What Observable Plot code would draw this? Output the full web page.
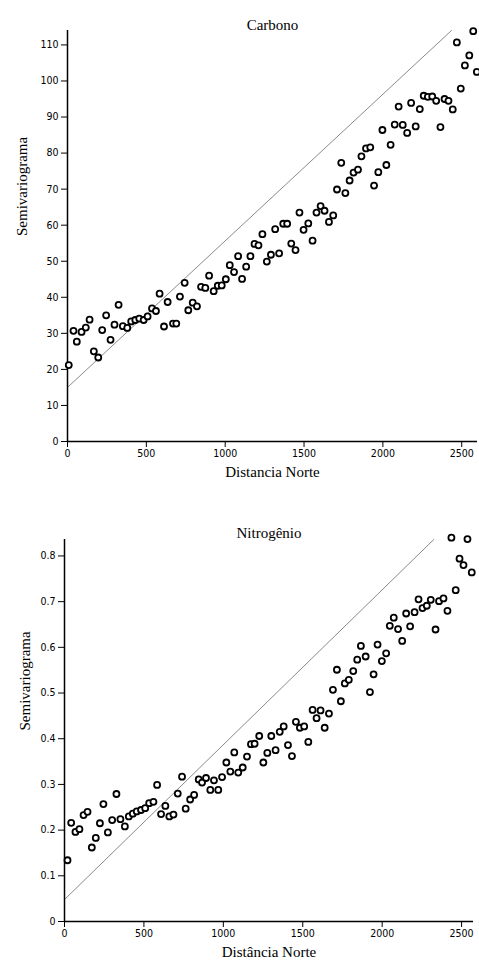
<!DOCTYPE html>
<html><head><meta charset="utf-8">
<script src="https://cdn.jsdelivr.net/npm/d3@7"></script>
<script src="https://cdn.jsdelivr.net/npm/@observablehq/plot@0.6"></script>
<style>
body{margin:0;background:#fff;}
#c svg{display:block;}
</style></head><body><div id="c"></div>
<script>
// Carbono
const distC = [8,38,59,89,116,140,167,195,220,245,273,298,324,351,379,404,430,455,483,508,536,561,584,612,635,669,690,713,743,766,794,821,847,874,898,927,953,978,1004,1029,1056,1082,1107,1133,1160,1186,1211,1236,1264,1290,1317,1342,1368,1393,1419,1446,1471,1497,1527,1554,1579,1605,1630,1658,1685,1709,1736,1762,1789,1814,1842,1864,1893,1920,1944,1971,1997,2022,2049,2075,2100,2126,2154,2179,2208,2234,2259,2285,2313,2338,2365,2391,2416,2443,2469,2494,2520,2548,2573,2596];
const semC = [21.2,30.7,27.7,30.4,31.6,33.8,25.0,23.3,30.9,35.0,28.2,32.4,37.9,32.0,31.5,33.3,33.7,34.1,33.7,34.7,36.9,36.2,41.0,31.9,38.7,32.7,32.7,40.2,44.0,36.4,38.5,37.5,42.9,42.6,46.0,41.7,43.2,43.3,45.0,48.9,47.0,51.4,45.1,48.5,51.4,54.8,54.4,57.5,49.9,51.8,58.9,52.2,60.4,60.4,54.9,53.1,63.5,58.7,60.5,55.7,63.5,65.3,64.0,60.9,62.7,69.9,77.3,68.9,72.4,74.6,75.4,79.1,81.3,81.6,71.0,74.7,86.4,76.7,82.3,87.9,92.9,87.8,85.6,93.9,87.4,92.2,95.9,95.6,95.7,94.5,87.2,95.0,94.5,92.1,110.7,97.9,104.3,107.1,113.8,102.5];
const modelDistC = [0, 2435];
const modelSemC = [15, 114];
const yTicksC = [0,10,20,30,40,50,60,70,80,90,100,110];

// Nitrogênio
const distN = [19,42,69,94,120,145,172,197,223,245,273,300,327,352,380,405,430,455,482,508,533,560,583,608,635,660,686,713,740,763,791,816,845,866,891,918,941,968,992,1019,1044,1069,1094,1122,1149,1174,1197,1226,1252,1277,1302,1329,1355,1380,1407,1432,1457,1482,1509,1535,1562,1587,1612,1638,1665,1690,1715,1740,1765,1790,1818,1843,1866,1896,1923,1946,1971,1998,2025,2048,2073,2100,2126,2151,2176,2204,2229,2254,2281,2306,2336,2358,2386,2411,2436,2463,2487,2512,2537,2564];
const semN = [0.134,0.216,0.196,0.202,0.233,0.240,0.162,0.183,0.215,0.257,0.195,0.222,0.279,0.224,0.208,0.230,0.236,0.241,0.244,0.248,0.259,0.262,0.299,0.235,0.253,0.230,0.234,0.280,0.317,0.247,0.267,0.277,0.311,0.304,0.314,0.288,0.309,0.288,0.316,0.348,0.328,0.370,0.326,0.337,0.361,0.388,0.389,0.406,0.348,0.369,0.406,0.375,0.415,0.427,0.386,0.362,0.437,0.424,0.427,0.393,0.463,0.445,0.462,0.424,0.455,0.507,0.551,0.482,0.521,0.529,0.548,0.573,0.603,0.580,0.502,0.541,0.606,0.570,0.587,0.647,0.665,0.640,0.614,0.674,0.646,0.677,0.705,0.686,0.691,0.704,0.639,0.701,0.707,0.680,0.840,0.725,0.794,0.780,0.837,0.764];
const modelDistN = [0, 2325];
const modelSemN = [0.048, 0.836];
const yTicksN = [0,0.1,0.2,0.3,0.4,0.5,0.6,0.7,0.8];

const xTicks = [0,500,1000,1500,2000,2500];
const serif = "'Liberation Serif', 'DejaVu Serif', serif";
const sans = "'DejaVu Sans Condensed', 'Liberation Sans', sans-serif";

function chart(o) {
  const pts = o.dist.map((d, i) => ({d, s: o.sem[i]}));
  const model = o.mDist.map((d, i) => ({d, s: o.mSem[i]}));
  return Plot.plot({
    width: 479, height: o.height,
    marginTop: o.mt, marginBottom: o.mb, marginLeft: o.ml, marginRight: o.mr,
    style: {background: "#fff", color: "#000", fontFamily: sans, fontSize: "10.5px"},
    x: {domain: o.xDomain},
    y: {domain: o.yDomain},
    marks: [
      Plot.line(model, {x: "d", y: "s", stroke: "#8a8a8a", strokeWidth: 1}),
      Plot.ruleY([0], {stroke: "#000", strokeWidth: 1.3}),
      Plot.ruleX([0], {stroke: "#000", strokeWidth: 1.5}),
      Plot.axisX({ticks: xTicks, tickFormat: d => String(d), tickSize: 6, tickPadding: 2, label: null, stroke: "#000", fill: "#000"}),
      Plot.axisY({ticks: o.yTicks, tickFormat: o.yFormat, tickSize: 6, tickPadding: 3, label: null, stroke: "#000", fill: "#000"}),
      Plot.dot(pts, {x: "d", y: "s", r: 3, stroke: "#000", strokeWidth: 1.8, fill: "#fff"}),
      Plot.text([o.title], {frameAnchor: "top", dy: o.titleDy, fontFamily: serif, fontSize: 15, fill: "#000"}),
      Plot.text([o.xLabel], {frameAnchor: "bottom", dy: 35, fontFamily: serif, fontSize: 15, fill: "#000"}),
      Plot.text([o.yLabel], {frameAnchor: "left", rotate: -90, dx: o.yLabelDx, fontFamily: serif, fontSize: 15, fill: "#000"})
    ]
  });
}

const c = document.getElementById("c");
c.append(chart({
  dist: distC, sem: semC, mDist: modelDistC, mSem: modelSemC,
  height: 490, mt: 30, mb: 49, ml: 67, mr: 2,
  xDomain: [0, 2600], yDomain: [0, 114], yTicks: yTicksC, yFormat: d => String(d),
  title: "Carbono", titleDy: -11, xLabel: "Distancia Norte", yLabel: "Semivariograma", yLabelDx: -45
}));
c.append(chart({
  dist: distN, sem: semN, mDist: modelDistN, mSem: modelSemN,
  height: 472, mt: 49, mb: 41, ml: 64, mr: 6,
  xDomain: [0, 2575], yDomain: [0, 0.836], yTicks: yTicksN, yFormat: d => d === 0 ? "0" : d.toFixed(1),
  title: "Nitrogênio", titleDy: -12, xLabel: "Distância Norte", yLabel: "Semivariograma", yLabelDx: -39
}));
</script>
</body></html>
